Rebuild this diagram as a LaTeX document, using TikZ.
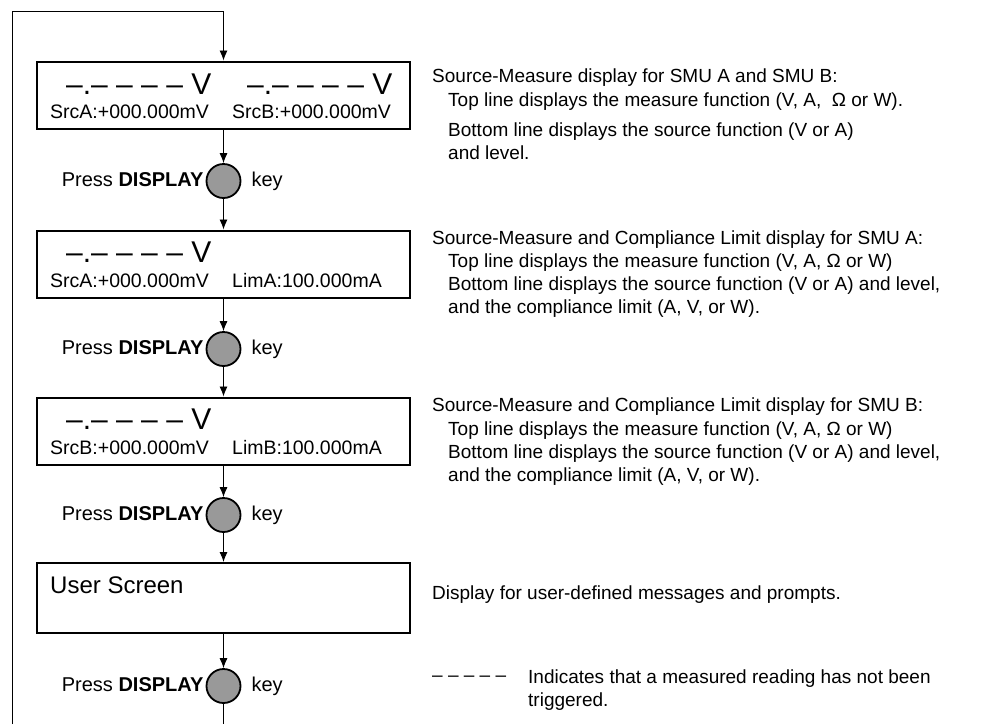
\documentclass[tikz,border=0pt]{standalone}
\usepackage{fontspec}
\setmainfont{Liberation Sans}
\usetikzlibrary{arrows.meta, positioning}
\definecolor{keyGray}{HTML}{999999}
\tikzset{
  screen/.style={draw, line width=2pt, minimum width=373pt, minimum height=67pt, inner sep=0pt},
  keybtn/.style={draw, line width=1.8pt, circle, fill=keyGray, minimum size=34pt, inner sep=0pt},
  flow/.style={-{Latex[length=10pt,width=8pt]}, line width=0.9pt},
  reading/.style={anchor=base west, inner sep=0pt, font=\fontsize{30}{34}\selectfont},
  status/.style={anchor=base west, inner sep=0pt, font=\fontsize{19.5}{23}\selectfont},
  press/.style={inner sep=0pt, text height=14pt, text depth=4pt, font=\fontsize{20}{23}\selectfont},
  note/.style={anchor=base west, inner sep=0pt, align=left, font=\fontsize{19}{23}\selectfont},
}

\begin{document}
\begin{tikzpicture}[x=1pt, y=-1pt]
\useasboundingbox (0,0) rectangle (987,724);

% display screens
\node[screen] (box1) at (223.5,95) {};
\node[screen] (box2) at (223.5,264) {};
\node[screen] (box3) at (223.5,431) {};
\node[screen, minimum height=70pt] (box4) at (223.5,598) {};

\node[reading] (r1a) at (66,94) {--.--\ -- -- -- V};
\node[reading] (r1b) at (247,94) {--.--\ -- -- -- V};
\node[status] (s1a) at (50,118) {SrcA:+000.000mV};
\node[status] (s1b) at (232,118) {SrcB:+000.000mV};

\node[reading] (r2) at (66,262) {--.--\ -- -- -- V};
\node[status] (s2a) at (50,287) {SrcA:+000.000mV};
\node[status] (s2b) at (232,287) {LimA:100.000mA};

\node[reading] (r3) at (66,429) {--.--\ -- -- -- V};
\node[status] (s3a) at (50,454) {SrcB:+000.000mV};
\node[status] (s3b) at (232,454) {LimB:100.000mA};

\node[status, font=\fontsize{24}{28}\selectfont] (us) at (50,593) {User Screen};

% DISPLAY keys
\node[keybtn] (c1) at (223.5,181) {};
\node[keybtn] (c2) at (223.5,349) {};
\node[keybtn] (c3) at (223.5,515) {};
\node[keybtn] (c4) at (223.5,686) {};

\node[press, left=2pt of c1] (p1) {Press \textbf{DISPLAY}};
\node[press, right=10pt of c1] (k1) {key};
\node[press, left=2pt of c2] (p2) {Press \textbf{DISPLAY}};
\node[press, right=10pt of c2] (k2) {key};
\node[press, left=2pt of c3] (p3) {Press \textbf{DISPLAY}};
\node[press, right=10pt of c3] (k3) {key};
\node[press, left=2pt of c4] (p4) {Press \textbf{DISPLAY}};
\node[press, right=10pt of c4] (k4) {key};

% flow
\draw[flow] (box1.south) -- (c1.north);
\draw[flow] (c1.south) -- (box2.north);
\draw[flow] (box2.south) -- (c2.north);
\draw[flow] (c2.south) -- (box3.north);
\draw[flow] (box3.south) -- (c3.north);
\draw[flow] (c3.south) -- (box4.north);
\draw[flow] (box4.south) -- (c4.north);

% loop back to the first screen
\coordinate (bot) at (223.5,724);
\coordinate (lbot) at (12,724);
\coordinate (ltop) at (12,11);
\draw[line width=0.9pt] (c4.south) -- (bot);
\draw[flow] (lbot) -- (ltop) -| (box1.north);

% notes (base of a multi-line note = its last line)
\node[note] (n1) at (432,82) {Source-Measure display for SMU A and SMU B:};
\node[note] (n1b) at (448,159) {Top line displays the measure function (V, A,\ \ Ω or W).\\[7pt]
  Bottom line displays the source function (V or A)\\and level.};

\node[note] (n2) at (432,244) {Source-Measure and Compliance Limit display for SMU A:};
\node[note] (n2b) at (448,313) {Top line displays the measure function (V, A, Ω or W)\\
  Bottom line displays the source function (V or A) and level,\\and the compliance limit (A, V, or W).};

\node[note] (n3) at (432,411) {Source-Measure and Compliance Limit display for SMU B:};
\node[note] (n3b) at (448,481) {Top line displays the measure function (V, A, Ω or W)\\
  Bottom line displays the source function (V or A) and level,\\and the compliance limit (A, V, or W).};

\node[note] (n4) at (432,599) {Display for user-defined messages and prompts.};

\node[note] (lg) at (432,681) {-- -- -- -- --};
\node[note] (lgt) at (528,706) {Indicates that a measured reading has not been\\triggered.};
\end{tikzpicture}
\end{document}
